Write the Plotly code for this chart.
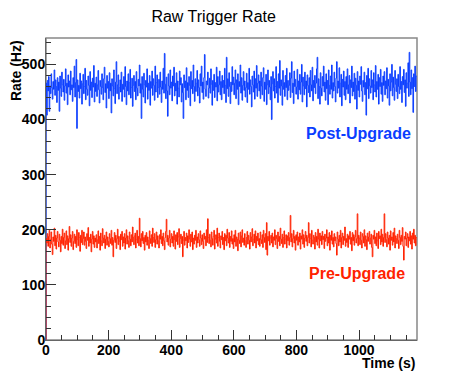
import numpy as np
import plotly.graph_objects as go

# 2 s bins; each value is the rate of the bin ending at that time.
# The leading 0 is the lower edge of the first bin (ROOT draws the histogram up from 0).
bin_width = 2

post_upgrade_hz = [0,
    466, 408, 471, 452, 478, 415, 461, 447, 483, 458, 437, 469, 455, 490, 444, 472, 460, 431, 476, 453,
    468, 415, 479, 457, 442, 486, 463, 450, 473, 435, 461, 492, 448, 466, 427, 481, 459, 470, 445, 488,
    454, 463, 433, 476, 458, 497, 441, 467, 509, 384, 472, 451, 462, 439, 484, 456, 470, 428, 465, 482,
    447, 460, 493, 436, 471, 455, 444, 479, 462, 425, 487, 453, 468, 440, 475, 459, 498, 432, 466, 451,
    477, 442, 463, 489, 454, 430, 471, 460, 446, 483, 458, 436, 474, 495, 449, 465, 421, 480, 457, 469,
    438, 485, 452, 466, 412, 474, 461, 443, 490, 456, 429, 468, 505, 447, 463, 481, 437, 458, 472, 450,
    486, 433, 464, 455, 478, 441, 496, 460, 427, 470, 452, 483, 445, 467, 491, 439, 458, 475, 424, 462,
    480, 451, 469, 436, 487, 457, 443, 473, 461, 499, 448, 465, 402, 478, 455, 441, 484, 463, 430, 471,
    459, 492, 437, 466, 453, 480, 426, 469, 457, 488, 444, 474, 462, 435, 497, 450, 467, 481, 440, 458,
    473, 446, 486, 459, 431, 470, 455, 493, 448, 520, 464, 438, 477, 452, 406, 483, 461, 445, 490, 457,
    468, 434, 479, 461, 495, 443, 466, 452, 485, 428, 470, 457, 441, 488, 463, 476, 432, 465, 449, 402,
    481, 458, 470, 436, 494, 453, 467, 440, 478, 462, 425, 487, 456, 471, 447, 499, 460, 433, 474, 451,
    466, 489, 443, 472, 458, 430, 483, 461, 497, 449, 468, 437, 476, 518, 455, 442, 470, 463, 486, 439,
    457, 475, 448, 492, 464, 426, 471, 453, 482, 440, 467, 459, 495, 434, 478, 450, 463, 488, 445, 469,
    436, 480, 458, 471, 447, 493, 462, 431, 513, 456, 474, 442, 485, 460, 429, 468, 451, 496, 463, 477,
    445, 466, 490, 438, 472, 455, 483, 427, 469, 460, 499, 448, 476, 435, 462, 487, 453, 470, 441, 458,
    484, 431, 467, 455, 493, 446, 472, 460, 423, 479, 463, 450, 488, 437, 474, 457, 498, 442, 466, 481,
    452, 470, 438, 486, 461, 445, 476, 494, 433, 468, 455, 482, 427, 463, 490, 447, 471, 459, 436, 478,
    400, 465, 487, 452, 474, 439, 460, 496, 448, 469, 431, 483, 457, 507, 444, 472, 461, 426, 489, 455,
    467, 442, 480, 458, 493, 436, 471, 453, 462, 485, 440, 475, 505, 449, 466, 429, 488, 460, 473, 446,
    459, 491, 437, 470, 454, 482, 446, 468, 500, 432, 477, 461, 445, 486, 456, 470, 423, 481, 462, 449,
    476, 441, 489, 463, 452, 495, 434, 471, 458, 480, 447, 466, 492, 513, 438, 474, 460, 428, 485, 457,
    443, 478, 461, 497, 450, 468, 435, 483, 456, 471, 427, 490, 462, 446, 479, 455, 499, 439, 467, 452,
    486, 460, 432, 475, 505, 448, 470, 457, 494, 441, 466, 482, 425, 473, 459, 488, 444, 469, 436, 478,
    455, 492, 447, 463, 480, 430, 472, 458, 497, 443, 468, 451, 484, 437, 475, 462, 419, 487, 453, 470,
    441, 479, 464, 496, 452, 433, 471, 459, 486, 445, 467, 408, 480, 456, 493, 438, 474, 461, 448, 489,
    458, 472, 436, 485, 463, 450, 498, 441, 469, 455, 482, 428, 476, 460, 491, 446, 467, 433, 479, 462,
    487, 445, 470, 456, 494, 439, 473, 461, 426, 483, 452, 468, 500, 443, 477, 458, 435, 489, 464, 451,
    474, 438, 482, 460, 447, 496, 455, 469, 431, 478, 463, 491, 449, 472, 424, 485, 457, 466, 503, 442,
    522, 468, 445, 490, 456, 476, 413, 483, 460, 497, 451, 479]

pre_upgrade_hz = [0,
    184, 176, 193, 170, 188, 199, 167, 182, 196, 174, 155, 187, 179, 203, 171, 190, 165, 185, 197, 178,
    169, 192, 181, 160, 188, 175, 201, 172, 186, 194, 166, 180, 198, 173, 189, 163, 184, 206, 177, 191,
    170, 185, 197, 164, 179, 192, 175, 188, 168, 200, 182, 171, 195, 186, 161, 190, 177, 199, 173, 184,
    196, 172, 187, 179, 166, 193, 181, 204, 170, 186, 176, 192, 160, 183, 197, 174, 189, 168, 185, 178,
    191, 167, 182, 198, 175, 188, 163, 194, 180, 171, 202, 185, 176, 190, 166, 183, 196, 172, 187, 179,
    169, 193, 184, 175, 199, 172, 186, 151, 181, 195, 177, 190, 166, 184, 201, 173, 188, 179, 164, 192,
    182, 197, 170, 187, 176, 193, 165, 185, 200, 174, 189, 180, 168, 196, 183, 171, 191, 178, 205, 186,
    173, 189, 194, 167, 182, 199, 176, 188, 171, 221, 184, 169, 193, 180, 197, 175, 186, 163, 190, 178,
    195, 172, 187, 181, 166, 198, 184, 175, 191, 170, 203, 186, 177, 193, 168, 182, 196, 174, 189, 180,
    167, 191, 183, 200, 175, 188, 171, 194, 180, 164, 186, 197, 219, 178, 190, 172, 185, 199, 169, 183,
    193, 176, 188, 170, 198, 182, 165, 191, 179, 195, 173, 187, 202, 168, 184, 192, 175, 188, 151, 181,
    197, 172, 186, 180, 194, 167, 189, 177, 200, 183, 170, 192, 178, 196, 164, 185, 174, 190, 181, 199,
    168, 187, 176, 193, 182, 170, 198, 185, 173, 191, 179, 166, 194, 183, 188, 171, 200, 177, 220, 186,
    175, 192, 181, 169, 196, 184, 172, 188, 199, 165, 183, 191, 176, 203, 170, 186, 194, 179, 167, 189,
    182, 197, 173, 186, 164, 193, 180, 190, 171, 201, 185, 176, 195, 168, 188, 179, 198, 174, 184, 166,
    191, 178, 199, 170, 187, 183, 162, 194, 181, 175, 196, 169, 189, 200, 177, 185, 172, 193, 180, 168,
    186, 197, 174, 190, 181, 165, 195, 178, 187, 202, 171, 183, 192, 176, 198, 167, 188, 180, 194, 173,
    184, 170, 196, 182, 175, 191, 168, 199, 186, 177, 193, 164, 213, 154, 188, 180, 197, 172, 185, 190,
    176, 194, 169, 187, 181, 200, 173, 190, 184, 166, 196, 179, 188, 171, 203, 183, 175, 192, 168, 186,
    198, 174, 183, 191, 167, 189, 180, 195, 172, 186, 226, 178, 193, 169, 184, 199, 176, 188, 163, 191,
    181, 196, 172, 187, 178, 194, 165, 189, 183, 200, 174, 191, 168, 185, 197, 179, 190, 171, 186, 213,
    176, 193, 184, 169, 199, 181, 174, 190, 186, 165, 195, 178, 188, 172, 201, 183, 167, 194, 180, 189,
    173, 197, 182, 188, 166, 192, 179, 185, 200, 171, 187, 176, 195, 163, 190, 181, 198, 174, 186, 169,
    193, 180, 187, 175, 154, 196, 183, 171, 190, 178, 199, 167, 186, 194, 173, 188, 181, 205, 170, 184,
    177, 192, 168, 189, 183, 197, 174, 186, 162, 195, 180, 191, 172, 187, 199, 176, 184, 229, 171, 190,
    185, 173, 196, 181, 167, 193, 188, 176, 200, 170, 189, 182, 164, 194, 179, 187, 197, 174, 185, 192,
    168, 151, 190, 183, 199, 175, 187, 171, 194, 180, 166, 197, 184, 189, 173, 201, 178, 192, 170, 186,
    229, 177, 193, 182, 169, 196, 185, 174, 190, 163, 198, 181, 187, 172, 195, 178, 203, 167, 189, 184,
    175, 192, 181, 166, 199, 186, 173, 190, 179, 204, 170, 145, 188, 183, 196, 171, 185, 193, 168, 187,
    180, 197, 174, 189, 165, 194, 183, 201, 176, 190, 171, 186]

post_time_s = np.arange(len(post_upgrade_hz)) * bin_width
pre_time_s = np.arange(len(pre_upgrade_hz)) * bin_width

BLUE = '#0a3dff'
RED = '#ff2200'
FONT = 'Liberation Sans, Arial, Helvetica, sans-serif'

fig = go.Figure()

fig.add_trace(go.Scatter(x=post_time_s, y=post_upgrade_hz, mode='lines', line_shape='vh',
                         line=dict(color=BLUE, width=1), name='Post-Upgrade'))
fig.add_trace(go.Scatter(x=pre_time_s, y=pre_upgrade_hz, mode='lines', line_shape='vh',
                         line=dict(color=RED, width=1), name='Pre-Upgrade'))

axis_common = dict(
    showgrid=False, zeroline=False, showline=True, linecolor='#666', linewidth=1,
    ticks='inside', ticklen=10, tickcolor='#333', ticklabelstandoff=-3,
    tickfont=dict(family=FONT, size=14, color='black', weight='bold'),
)

fig.update_xaxes(range=[0, 1185], dtick=200, tick0=0,
                 minor=dict(dtick=50, ticks='inside', ticklen=5, tickcolor='#333'),
                 **axis_common)
fig.update_yaxes(range=[0, 548], dtick=100, tick0=0,
                 minor=dict(dtick=20, ticks='inside', ticklen=5, tickcolor='#333'),
                 **axis_common)

# frame (top/right edges grey as in ROOT canvas)
fig.add_shape(type='rect', xref='paper', yref='paper', x0=0, x1=1, y0=0, y1=1,
              line=dict(color='#888', width=1.5), layer='below')

fig.add_annotation(text='Rate (Hz)', xref='paper', yref='paper', x=-0.082, y=1.0,
                   xanchor='center', yanchor='top', textangle=-90, showarrow=False,
                   font=dict(family=FONT, size=14, color='black', weight='bold'))
fig.add_annotation(text='Time (s)', xref='paper', yref='paper', x=1.0, y=-0.076,
                   xanchor='right', yanchor='middle', showarrow=False,
                   font=dict(family=FONT, size=14, color='black', weight='bold'))
fig.add_annotation(text='Post-Upgrade', x=997, y=375, showarrow=False,
                   font=dict(family=FONT, size=16, color=BLUE, weight='bold'))
fig.add_annotation(text='Pre-Upgrade', x=994, y=121, showarrow=False,
                   font=dict(family=FONT, size=16, color=RED, weight='bold'))

# page body keeps an 8 px margin, so the figure is laid out 8 px smaller/shifted
fig.update_layout(
    width=455, height=371,
    margin=dict(l=38, r=46, t=30, b=39),
    paper_bgcolor='white', plot_bgcolor='white',
    showlegend=False,
    title=dict(text='Raw Trigger Rate', x=0.452, xanchor='center', y=0.977, yanchor='middle',
               font=dict(family=FONT, size=16, color='black')),
)

fig.write_html("out.html")
